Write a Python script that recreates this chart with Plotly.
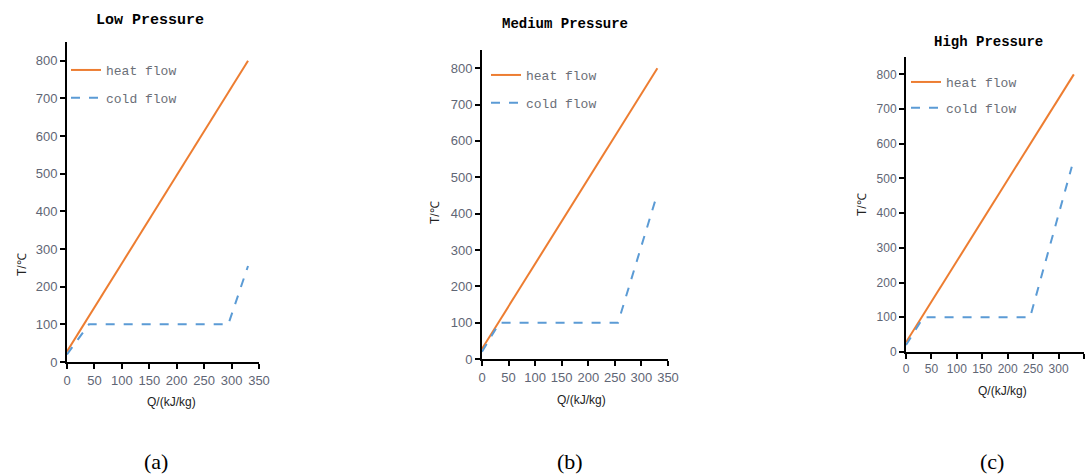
import plotly.graph_objects as go

# ---- data ----
panels = ["Low Pressure", "Medium Pressure", "High Pressure"]
captions = ["(a)", "(b)", "(c)"]

heat_q = [0, 330]
heat_t = [28, 800]

cold_q_low = [0, 40, 294, 330]
cold_t_low = [20, 100, 100, 255]
cold_q_med = [0, 33, 256, 330]
cold_t_med = [20, 100, 100, 455]
cold_q_high = [0, 34, 244, 326]
cold_t_high = [20, 100, 100, 534]

cold_q = [cold_q_low, cold_q_med, cold_q_high]
cold_t = [cold_t_low, cold_t_med, cold_t_high]

x_ticks = [0, 50, 100, 150, 200, 250, 300, 350]
y_ticks = [0, 100, 200, 300, 400, 500, 600, 700, 800]

W, H = 1092, 474
HEAT = "#ED7D31"
COLD = "#5B9BD5"
TICKC = "#5f6675"

# pixel layout of each panel: (x0, x1, ybottom, ytop)
geo = [(67, 259, 362, 42), (482, 668, 359, 50), (906, 1084, 352, 57)]
title_pos = [(150, 20, 15), (565, 24, 14), (988, 42, 14)]
xtitle_pos = [(171, 402), (581, 400), (1002, 391)]
ytitle_pos = [(22, 265), (435, 212), (862, 205)]
cap_pos = [(156, 461), (570, 461), (992, 461)]
legend_pos = [(66, 55), (486, 60), (906, 67)]
legend_gap = [8, 8, 6]
tick_size = [13, 13, 12]

def px(x):
    return x / W

def py(y):
    return 1 - y / H

fig = go.Figure()
annotations = []
layout = dict(width=W, height=H, margin=dict(l=0, r=0, t=0, b=0, autoexpand=False),
              paper_bgcolor="white", plot_bgcolor="white", showlegend=True)

for i in range(3):
    n = i + 1
    xa = "x" if n == 1 else f"x{n}"
    ya = "y" if n == 1 else f"y{n}"
    lg = "legend" if n == 1 else f"legend{n}"
    fig.add_trace(go.Scatter(x=heat_q, y=heat_t, mode="lines", name="heat flow",
                             line=dict(color=HEAT, width=2), xaxis=xa, yaxis=ya,
                             legend=lg, legendgroup=f"h{n}", cliponaxis=False))
    fig.add_trace(go.Scatter(x=cold_q[i], y=cold_t[i], mode="lines", name="cold flow",
                             line=dict(color=COLD, width=2, dash="dash"), xaxis=xa, yaxis=ya,
                             legend=lg, legendgroup=f"c{n}", cliponaxis=False))
    x0, x1, yb, yt = geo[i]
    xkey = "xaxis" if n == 1 else f"xaxis{n}"
    ykey = "yaxis" if n == 1 else f"yaxis{n}"
    layout[xkey] = dict(domain=[px(x0), px(x1)], anchor=ya, range=[0, 350],
                        tickvals=x_ticks, showline=True, linecolor="black", linewidth=2,
                        ticks="outside", ticklen=5, tickwidth=1.5, tickcolor="black",
                        showgrid=False, zeroline=False, automargin=False,
                        tickfont=dict(family="Liberation Sans, Arial", size=tick_size[i], color=TICKC))
    layout[ykey] = dict(domain=[py(yb), py(yt)], anchor=xa, range=[0, 850],
                        tickvals=y_ticks, showline=True, linecolor="black", linewidth=2,
                        ticks="outside", ticklen=5, tickwidth=1.5, tickcolor="black",
                        showgrid=False, zeroline=False, automargin=False,
                        tickfont=dict(family="Liberation Sans, Arial", size=tick_size[i], color=TICKC))
    lx, ly = legend_pos[i]
    layout[lg] = dict(x=px(lx), y=py(ly), xanchor="left", yanchor="top",
                      bgcolor="rgba(0,0,0,0)", borderwidth=0, tracegroupgap=legend_gap[i],
                      traceorder="grouped",
                      font=dict(family="Liberation Mono", size=13, color="#6b6f78"))
    tx, ty, ts = title_pos[i]
    annotations.append(dict(text=f"<b>{panels[i]}</b>", x=px(tx), y=py(ty), xref="paper", yref="paper",
                            showarrow=False, xanchor="center", yanchor="middle",
                            font=dict(family="Liberation Mono", size=ts, color="black")))
    qx, qy = xtitle_pos[i]
    annotations.append(dict(text="Q/(kJ/kg)", x=px(qx), y=py(qy), xref="paper", yref="paper",
                            showarrow=False, xanchor="center", yanchor="middle",
                            font=dict(family="Liberation Sans, Arial", size=12, color="#222")))
    tx2, ty2 = ytitle_pos[i]
    annotations.append(dict(text="T/℃", x=px(tx2), y=py(ty2), xref="paper", yref="paper",
                            showarrow=False, xanchor="center", yanchor="middle", textangle=-90,
                            font=dict(family="Liberation Sans, Arial", size=12, color="#222")))
    cx, cy = cap_pos[i]
    annotations.append(dict(text=captions[i], x=px(cx), y=py(cy), xref="paper", yref="paper",
                            showarrow=False, xanchor="center", yanchor="middle",
                            font=dict(family="Liberation Serif, Times New Roman", size=22, color="black")))

layout["annotations"] = annotations
fig.update_layout(**layout)
fig.write_html("out.html", config={"displayModeBar": False},
               post_script="document.body.style.margin='0';document.body.style.overflow='hidden';")
